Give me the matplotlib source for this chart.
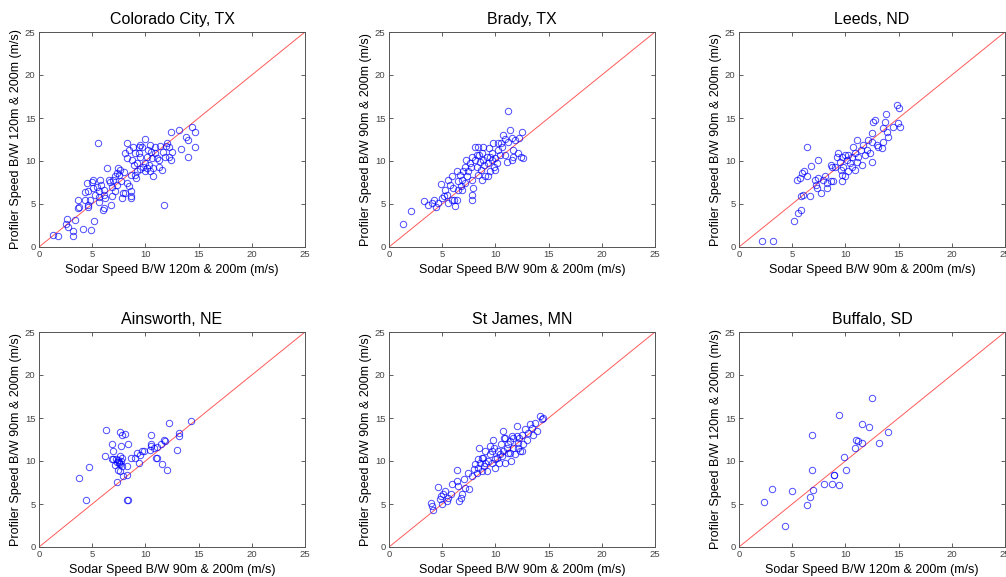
import matplotlib.pyplot as plt
import numpy as np

plt.rcParams['font.family'] = ['Liberation Sans', 'DejaVu Sans']

# values (sodar x, profiler y, m/s)
colorado_x = [1.35, 1.82, 2.61, 2.52, 2.7, 3.4, 3.2, 3.2, 4.12, 4.9, 5.2, 3.71, 3.8, 3.65, 4.56, 4.65,
              4.78, 4.59, 4.28, 4.53, 4.97, 5.1, 5.44, 5.6, 5.66, 5.6, 5.97, 6.07, 6.79, 5.53, 5.75, 5.85,
              6.1, 6.4, 6.54, 6.7, 6.86, 6.95, 7.1, 7.33, 7.42, 7.64, 7.55, 7.7, 7.86, 8.05, 7.8, 8.05,
              8.27, 7.99, 8.3, 8.65, 8.62, 8.43, 8.6, 8.74, 8.8, 9.06, 9.2, 9.2, 9.06, 9.37, 9.53, 9.69,
              10.0, 9.75, 9.94, 10.16, 10.16, 10.3, 10.47, 10.57, 10.63, 10.69, 10.69, 10.94, 11.1, 11.4,
              11.32, 11.57, 11.63, 11.79, 11.95, 12.05, 12.2, 12.26, 12.36, 12.5, 12.36, 13.14, 13.3,
              13.77, 14.0, 14.0, 14.4, 14.7, 14.7, 8.27, 8.49, 8.9, 9.12, 9.47, 10.0, 9.53, 8.6, 7.33,
              7.1, 6.86, 6.23, 5.12, 5.28, 4.34, 6.07, 10.94, 11.26, 10.25, 11.88, 10.47, 9.37]
colorado_y = [1.43, 1.31, 3.25, 2.67, 2.3, 3.1, 1.3, 1.9, 2.09, 1.93, 3.05, 4.48, 4.64, 5.49, 4.64, 4.9,
              5.49, 6.5, 6.42, 7.42, 7.5, 7.8, 6.96, 6.46, 5.8, 5.2, 4.33, 4.52, 4.87, 12.14, 7.81, 7.23,
              6.65, 9.16, 7.81, 7.5, 6.96, 7.81, 6.46, 7.23, 9.16, 8.97, 8.39, 7.62, 6.26, 6.26, 5.68, 10.9,
              12.06, 8.7, 7.42, 5.88, 5.7, 7.04, 6.46, 10.13, 11.68, 10.9, 9.74, 8.78, 8.39, 11.68, 10.52,
              11.6, 12.53, 9.36, 8.78, 10.52, 9.16, 9.55, 11.87, 11.1, 10.32, 9.16, 8.2, 11.68, 10.32, 11.75,
              10.13, 8.97, 11.1, 4.83, 11.75, 12.06, 11.6, 10.52, 10.13, 11.1, 13.42, 13.61, 11.37, 12.84,
              12.45, 10.52, 14.0, 13.42, 11.68, 10.4, 11.29, 9.55, 8.0, 9.05, 9.74, 11.87, 8.39, 8.58,
              8.2, 5.95, 5.68, 6.84, 6.07, 5.49, 5.99, 10.9, 9.28, 11.29, 10.52, 8.78, 10.9]

brady_x = [1.35, 2.07, 3.32, 3.7, 4.07, 4.26, 4.39, 4.64, 4.95, 4.86, 5.27, 5.2, 5.42, 5.58, 5.58, 5.74,
           5.89, 6.05, 6.14, 6.21, 6.36, 6.52, 6.46, 6.36, 6.68, 6.77, 6.83, 6.99, 7.15, 7.15, 7.21, 7.3,
           7.46, 7.62, 7.77, 7.71, 7.84, 7.93, 7.77, 7.84, 8.09, 8.09, 8.24, 8.34, 8.46, 8.56, 8.65, 8.78,
           8.87, 8.97, 9.03, 9.18, 9.34, 9.4, 9.5, 9.65, 9.72, 9.9, 9.97, 10.12, 10.28, 10.44, 10.53, 10.6,
           10.75, 10.91, 11.07, 11.16, 11.22, 11.38, 11.54, 11.69, 11.69, 11.85, 12.16, 12.23, 12.48,
           12.41, 12.63, 11.54, 9.97, 9.34, 10.28, 9.81, 8.71, 8.4, 6.83, 5.89, 10.91, 8.87, 9.5, 8.24]
brady_y = [2.71, 4.21, 5.3, 4.91, 5.1, 5.49, 4.64, 5.1, 5.64, 7.31, 6.65, 5.88, 6.07, 5.1, 7.81, 7.23,
           8.2, 6.84, 5.49, 4.72, 8.78, 7.62, 6.65, 5.49, 8.39, 7.04, 7.81, 8.78, 9.36, 7.42, 10.13, 8.2,
           8.78, 9.74, 10.52, 9.36, 7.81, 6.84, 6.07, 5.49, 11.68, 10.13, 9.36, 8.39, 10.71, 9.94, 8.97,
           10.9, 10.13, 9.55, 8.2, 10.52, 9.74, 11.48, 8.78, 10.9, 10.13, 9.36, 10.32, 9.74, 11.29, 10.71,
           12.14, 11.68, 13.03, 12.53, 9.94, 15.81, 12.26, 13.61, 12.64, 11.29, 10.52, 12.45, 10.9, 12.64,
           13.42, 10.52, 10.32, 10.13, 8.97, 8.2, 12.06, 12.06, 7.81, 11.68, 6.65, 5.49, 10.71, 11.68,
           10.52, 10.71]

leeds_x = [2.13, 3.23, 5.17, 5.58, 5.8, 5.8, 6.05, 6.68, 5.42, 5.89, 6.14, 5.74, 6.36, 6.36, 6.77, 7.4,
           7.46, 7.21, 7.3, 7.71, 7.93, 8.09, 8.24, 8.24, 8.65, 8.65, 8.78, 8.87, 9.18, 9.34, 9.5, 9.59,
           9.72, 9.72, 9.81, 9.97, 10.12, 10.28, 10.44, 10.6, 10.75, 10.6, 10.91, 11.07, 11.07, 11.22,
           11.47, 11.69, 11.85, 12.16, 12.0, 12.48, 12.48, 12.63, 12.79, 12.94, 13.1, 13.42, 13.51, 13.57,
           13.79, 13.73, 13.89, 13.98, 14.51, 14.83, 15.05, 14.92, 15.14, 9.03, 9.65, 10.28, 11.6, 12.32,
           10.91, 9.97, 7.15, 12.48]
leeds_y = [0.66, 0.73, 3.05, 3.94, 4.25, 5.88, 5.99, 5.88, 7.81, 8.58, 8.78, 8.0, 11.68, 8.2, 9.43, 10.13,
           8.0, 7.23, 6.84, 6.26, 7.81, 8.2, 7.42, 6.84, 7.62, 9.55, 9.36, 7.62, 10.52, 10.9, 9.94, 8.97,
           8.39, 7.62, 9.36, 10.71, 10.13, 8.78, 9.74, 10.52, 11.68, 9.36, 10.9, 9.94, 12.45, 10.52,
           11.29, 11.87, 10.71, 12.45, 11.29, 9.94, 13.3, 14.58, 14.77, 11.87, 11.68, 11.48, 12.26, 13.8,
           15.47, 14.58, 13.42, 12.83, 14.0, 16.51, 16.12, 14.38, 13.92, 9.36, 10.52, 10.71, 9.55, 10.9,
           8.97, 8.2, 7.81, 12.26]

ainsworth_x = [3.74, 4.4, 4.7, 6.3, 6.2, 6.9, 7.0, 6.9, 7.2, 7.1, 7.3, 7.55, 7.4, 7.6, 7.7, 7.8, 7.6, 7.7,
               7.8, 7.6, 7.9, 7.8, 8.1, 8.3, 8.3, 8.4, 8.3, 8.4, 8.6, 9.06, 9.2, 9.4, 9.5, 9.7, 9.9, 10.5,
               10.5, 10.5, 10.4, 10.8, 11.1, 11.0, 11.1, 11.5, 11.6, 11.75, 11.85, 12.0, 12.2, 13.0, 13.15,
               13.2, 14.25, 7.0, 7.48, 7.6, 7.35, 7.45]
ainsworth_y = [8.05, 5.5, 9.25, 13.66, 10.57, 12.0, 11.15, 10.2, 10.2, 9.5, 7.55, 9.9, 9.0, 13.4, 11.7, 13.0,
               10.6, 10.0, 9.4, 8.8, 8.2, 10.3, 13.1, 9.4, 8.4, 12.0, 5.5, 5.5, 10.4, 10.37, 10.95, 9.8,
               10.7, 11.2, 11.2, 13.0, 12.0, 11.75, 11.25, 11.5, 11.65, 10.4, 10.3, 12.0, 9.6, 12.5, 12.3,
               9.0, 14.4, 11.3, 13.27, 12.95, 14.6, 10.2, 9.8, 9.6, 9.9, 10.1]

stjames_x = [3.95, 4.01, 4.17, 4.57, 4.79, 4.89, 5.11, 5.26, 5.01, 5.42, 5.58, 5.83, 5.95, 6.36, 6.36, 6.52,
             6.61, 6.77, 6.89, 7.08, 7.14, 7.4, 7.52, 7.77, 8.02, 8.08, 8.24, 8.4, 8.49, 8.56, 8.71, 8.87,
             8.96, 9.03, 9.18, 9.34, 9.5, 9.65, 9.81, 9.9, 9.97, 10.12, 10.28, 10.34, 10.53, 10.59, 10.75,
             10.84, 10.91, 11.06, 11.22, 11.38, 11.47, 11.53, 11.69, 11.85, 12.0, 12.1, 12.22, 12.32, 12.47,
             12.63, 12.79, 12.94, 13.1, 13.26, 13.41, 13.57, 13.73, 13.88, 14.2, 14.35, 14.51, 9.5, 10.75,
             11.22, 11.69, 12.16, 9.97, 10.44, 9.03, 8.71, 11.38, 12.47, 10.91, 12.0, 9.65, 8.4]
stjames_y = [5.15, 4.76, 4.26, 6.97, 5.54, 5.92, 6.12, 6.5, 4.96, 5.34, 5.73, 6.2, 7.28, 7.67, 8.9, 7.09,
             5.34, 5.65, 6.12, 7.86, 6.89, 8.63, 6.7, 8.24, 9.02, 9.6, 8.63, 9.21, 11.54, 9.8, 8.83, 10.38,
             9.41, 11.15, 8.83, 9.99, 10.76, 9.8, 12.5, 11.54, 9.21, 10.38, 11.15, 9.8, 11.92, 10.57, 13.47,
             12.7, 9.8, 11.54, 10.96, 12.31, 9.99, 12.89, 11.54, 10.76, 14.05, 12.12, 12.7, 11.15, 13.08,
             11.92, 13.67, 12.5, 13.28, 14.25, 13.86, 13.08, 14.44, 13.47, 15.21, 14.83, 15.02, 11.73,
             11.15, 11.92, 12.7, 11.54, 10.18, 10.76, 9.8, 10.38, 10.96, 11.15, 12.7, 12.89, 11.15, 10.18]

buffalo_x = [12.5, 9.37, 11.56, 12.25, 13.97, 6.9, 11.0, 11.2, 11.6, 10.9, 13.2, 9.9, 10.1, 6.9, 8.9, 8.95,
             8.0, 8.7, 9.4, 6.95, 6.7, 6.4, 3.1, 5.0, 2.35, 4.3]
buffalo_y = [17.3, 15.3, 14.3, 13.9, 13.35, 13.0, 12.45, 12.3, 12.1, 11.5, 12.1, 10.45, 8.95, 8.95, 8.4, 8.4,
             7.35, 7.35, 7.2, 6.6, 5.85, 4.9, 6.7, 6.5, 5.2, 2.4]

titles = ['Colorado City, TX', 'Brady, TX', 'Leeds, ND', 'Ainsworth, NE', 'St James, MN', 'Buffalo, SD']
xlabels = ['Sodar Speed B/W 120m & 200m (m/s)', 'Sodar Speed B/W 90m & 200m (m/s)',
           'Sodar Speed B/W 90m & 200m (m/s)', 'Sodar Speed B/W 90m & 200m (m/s)',
           'Sodar Speed B/W 90m & 200m (m/s)', 'Sodar Speed B/W 120m & 200m (m/s)']
ylabels = ['Profiler Speed B/W 120m & 200m (m/s)', 'Profiler Speed B/W 90m & 200m (m/s)',
           'Profiler Speed B/W 90m & 200m (m/s)', 'Profiler Speed B/W 90m & 200m (m/s)',
           'Profiler Speed B/W 90m & 200m (m/s)', 'Profiler Speed B/W 120m & 200m (m/s)']
xs = [colorado_x, brady_x, leeds_x, ainsworth_x, stjames_x, buffalo_x]
ys = [colorado_y, brady_y, leeds_y, ainsworth_y, stjames_y, buffalo_y]

fig = plt.figure(figsize=(10.06, 5.77), dpi=100)

W, H = 1006.0, 577.0
lefts = [39, 389, 739]
tops = [32, 332]
aw, ah = 266, 215

for i in range(6):
    r, c = divmod(i, 3)
    ax = fig.add_axes([lefts[c] / W, 1 - (tops[r] + ah) / H, aw / W, ah / H])
    ax.plot([0, 25], [0, 25], color='red', lw=0.7, alpha=0.65)
    ax.plot(xs[i], ys[i], 'o', ms=4.6, mfc='none', mec='blue', mew=0.7, alpha=0.7)
    ax.set_xlim(0, 25)
    ax.set_ylim(0, 25)
    ax.set_xticks(np.arange(0, 26, 5))
    ax.set_yticks(np.arange(0, 26, 5))
    ax.tick_params(direction='in', length=3, width=0.6, labelsize=6.8, colors='#444444',
                   top=True, right=True, pad=2.5)
    for s in ax.spines.values():
        s.set_color('#555555')
        s.set_linewidth(0.7)
    ax.set_title(titles[i], fontsize=11.5, pad=6)
    ax.set_xlabel(xlabels[i], fontsize=9, labelpad=3)
    ax.set_ylabel(ylabels[i], fontsize=9, labelpad=2)

fig.savefig('out.png', dpi=100)
